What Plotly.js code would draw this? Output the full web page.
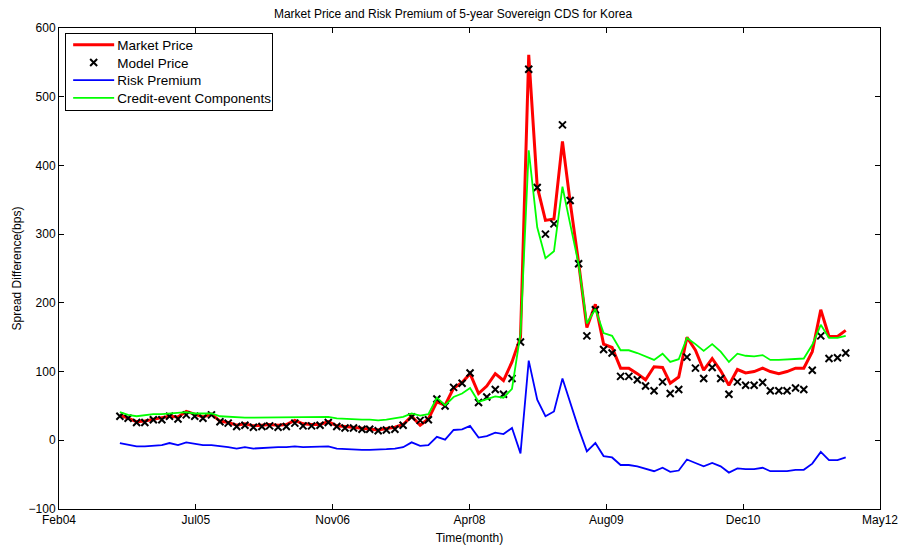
<!DOCTYPE html>
<html>
<head>
<meta charset="utf-8">
<script src="https://cdn.plot.ly/plotly-3.0.1.min.js"></script>
<style>html,body{margin:0;padding:0;background:#fff;}#chart{width:906px;height:550px;}</style>
</head>
<body>
<div id="chart"></div>
<script>
// Months (monthly observations, Sep 2004 - Dec 2011)
const months = [
  '2004-09','2004-10','2004-11','2004-12',
  '2005-01','2005-02','2005-03','2005-04','2005-05','2005-06','2005-07','2005-08','2005-09','2005-10','2005-11','2005-12',
  '2006-01','2006-02','2006-03','2006-04','2006-05','2006-06','2006-07','2006-08','2006-09','2006-10','2006-11','2006-12',
  '2007-01','2007-02','2007-03','2007-04','2007-05','2007-06','2007-07','2007-08','2007-09','2007-10','2007-11','2007-12',
  '2008-01','2008-02','2008-03','2008-04','2008-05','2008-06','2008-07','2008-08','2008-09','2008-10','2008-11','2008-12',
  '2009-01','2009-02','2009-03','2009-04','2009-05','2009-06','2009-07','2009-08','2009-09','2009-10','2009-11','2009-12',
  '2010-01','2010-02','2010-03','2010-04','2010-05','2010-06','2010-07','2010-08','2010-09','2010-10','2010-11','2010-12',
  '2011-01','2011-02','2011-03','2011-04','2011-05','2011-06','2011-07','2011-08','2011-09','2011-10','2011-11','2011-12'
];

const marketPrice = [
  37,32,27,28, 30,33,35,34,42,38,34,38,28,26,22,24,
  21,22,23,22,23,29,24,23,23,27,21,20,
  19,17,17,15,17,19,23,35,22,31,56,51,
  76,84,97,68,79,97,87,114,150,561,369,320,
  322,435,347,258,164,198,140,135,105,105,97,88,
  107,106,83,92,150,131,102,119,101,80,103,98,
  100,105,100,97,100,105,105,129,190,151,151,160
];

const modelPrice = [
  35,32,26,26, 30,30,35,31,37,35,32,37,27,25,20,22,
  19,20,21,19,20,25,21,21,22,26,20,18,
  18,16,16,14,15,16,22,34,29,30,60,50,
  77,83,98,55,63,74,67,90,143,540,368,300,
  315,459,349,257,152,190,132,127,93,93,88,79,
  72,85,68,74,121,105,90,106,90,67,85,80,
  80,84,72,72,72,76,74,102,152,119,120,127
];

const riskPremium = [
  -4,-7,-9,-9, -8,-7,-4,-7,-3,-5,-7,-7,-8,-10,-12,-10,
  -12,-11,-10,-10,-10,-9,-10,-10,-10,-9,-12,-13,
  -14,-14,-14,-14,-13,-12,-10,-3,-8,-7,5,1,
  15,16,21,4,6,11,9,18,-19,116,59,35,
  42,90,54,17,-16,-4,-23,-25,-36,-36,-38,-42,
  -45,-40,-46,-44,-28,-33,-38,-33,-38,-47,-41,-42,
  -42,-40,-45,-45,-45,-43,-43,-34,-17,-29,-29,-25
];

const creditEvent = [
  41,37,35,37, 38,38,39,39,41,39,39,39,35,34,33,33,
  33,33,33,33,34,34,33,33,34,34,32,31,
  30,30,30,29,30,32,34,39,36,38,62,51,
  63,68,76,56,60,64,62,75,155,422,310,265,
  275,369,315,256,170,191,156,152,131,131,127,122,
  117,126,114,118,149,140,130,140,129,114,126,123,
  122,124,117,117,118,119,119,139,168,149,149,152
];

const tickText = ['Feb04','Jul05','Nov06','Apr08','Aug09','Dec10','May12'];
const yTicks = [-100,0,100,200,300,400,500,600];

// axis window
const xStart = Date.UTC(2004,0,23), xEnd = Date.UTC(2012,3,4);
function iso(ms){ return new Date(ms).toISOString().slice(0,19).replace('T',' '); }
const tickVals = tickText.map((t,k)=> iso(xStart + (xEnd - xStart)*k/(tickText.length-1)));

const font = 'Arial, "Liberation Sans", sans-serif';

const traces = [
  {x: months, y: marketPrice, name: 'Market Price', type: 'scatter', mode: 'lines',
   line: {color: '#ff0000', width: 3}},
  {x: months, y: modelPrice, name: 'Model Price', type: 'scatter', mode: 'markers',
   marker: {symbol: 'x-thin-open', size: 7, color: '#000', line: {color: '#000', width: 2}}},
  {x: months, y: riskPremium, name: 'Risk Premium', type: 'scatter', mode: 'lines',
   line: {color: '#0000ff', width: 1.8}},
  {x: months, y: creditEvent, name: 'Credit-event Components', type: 'scatter', mode: 'lines',
   line: {color: '#00ff00', width: 1.8}}
];

const layout = {
  width: 906, height: 550,
  margin: {l: 59, r: 26, t: 28, b: 41, pad: 0},
  paper_bgcolor: '#fff', plot_bgcolor: '#fff',
  font: {family: font, size: 12, color: '#000'},
  title: {text: 'Market Price and Risk Premium of 5-year Sovereign CDS for Korea',
          font: {family: font, size: 12, color: '#000'}, x: 0.5, xanchor: 'center', y: 0.975, yanchor: 'middle'},
  showlegend: true,
  legend: {x: 0.0075, y: 0.99, xanchor: 'left', yanchor: 'top', bgcolor: '#fff',
           bordercolor: '#000', borderwidth: 1, font: {family: font, size: 13.5, color: '#000'},
           tracegroupgap: 0, itemwidth: 30},
  xaxis: {type: 'date', range: [iso(xStart), iso(xEnd)], tickmode: 'array', tickvals: tickVals, ticktext: tickText,
          ticks: 'inside', ticklen: 5, tickcolor: '#000', showline: true, linecolor: '#000', linewidth: 1,
          mirror: 'ticks', showgrid: false, zeroline: false, automargin: false,
          tickfont: {family: font, size: 12, color: '#000'},
          title: {text: 'Time(month)', font: {family: font, size: 12, color: '#000'}, standoff: 7}},
  yaxis: {range: [-100, 600], tickmode: 'array', tickvals: yTicks, ticks: 'inside', ticklen: 5, tickcolor: '#000',
          showline: true, linecolor: '#000', linewidth: 1, mirror: 'ticks', showgrid: false, zeroline: false,
          automargin: false, tickfont: {family: font, size: 12, color: '#000'},
          title: {text: 'Spread Difference(bps)', font: {family: font, size: 12, color: '#000'}, standoff: 4}}
};

Plotly.newPlot('chart', traces, layout, {displayModeBar: false, staticPlot: true}).then(function(){
  // match the reference legend geometry (row spacing, longer line samples)
  const rows = document.querySelectorAll('.legend .traces');
  rows.forEach(function(r, k){
    r.setAttribute('transform', 'translate(1,' + (12 + 17.7*k) + ')');
    r.querySelectorAll('.legendlines path').forEach(function(p){ p.setAttribute('d', 'M7,0h41'); });
    r.querySelectorAll('.legendpoints path.scatterpts').forEach(function(p){ p.setAttribute('transform', 'translate(27.5,0)'); });
    const t = r.querySelector('text.legendtext');
    if (t) t.setAttribute('x', 51);
  });
  const W = 207, H = 77;
  const bg = document.querySelector('.legend .bg');
  if (bg) { bg.setAttribute('height', H); bg.setAttribute('width', W); }
  document.querySelectorAll('clipPath[id*="legend"] rect').forEach(function(rc){
    rc.setAttribute('width', W); rc.setAttribute('height', H);
  });
});
</script>
</body>
</html>
